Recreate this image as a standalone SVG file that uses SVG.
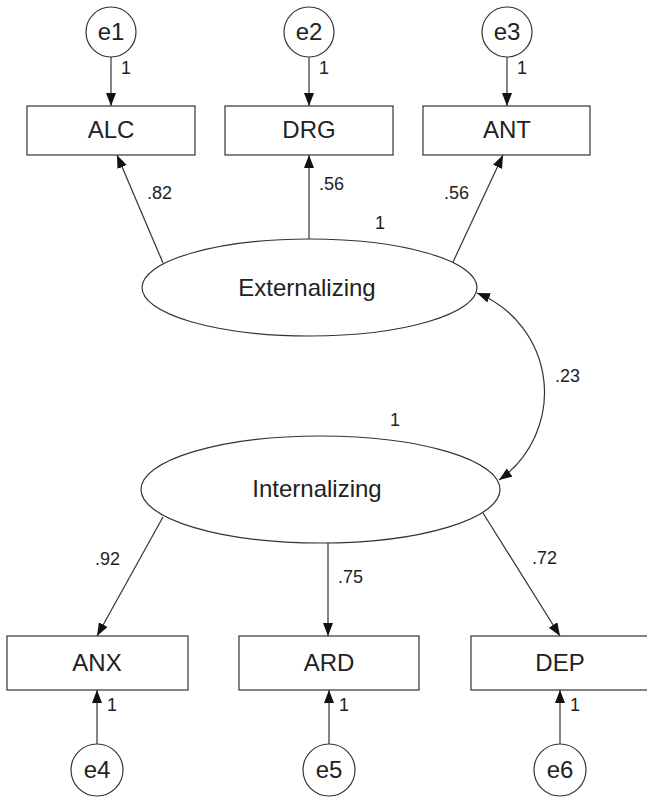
<svg xmlns="http://www.w3.org/2000/svg" width="647" height="798" viewBox="0 0 647 798">
<style>
.shape{fill:#fff;stroke:#333;stroke-width:1.2}
.lbl{font-family:"Liberation Sans",Arial,sans-serif;font-size:24px;fill:#222;text-anchor:middle}
.num{font-family:"Liberation Sans",Arial,sans-serif;font-size:18px;fill:#222}
.conn{fill:none;stroke:#333;stroke-width:1.2}
</style>
<defs>
<marker id="ah" markerUnits="userSpaceOnUse" markerWidth="14" markerHeight="11" refX="13" refY="5" orient="auto-start-reverse" viewBox="0 0 14 11">
<path d="M0,0 L13,5 L0,10 z" fill="#111"/>
</marker>
</defs>
<rect width="647" height="798" fill="#fff"/>
<g id="connectors">
<line class="conn" x1="111" y1="57" x2="111" y2="106" marker-end="url(#ah)"/>
<line class="conn" x1="309" y1="57" x2="309" y2="106" marker-end="url(#ah)"/>
<line class="conn" x1="507" y1="57" x2="507" y2="106" marker-end="url(#ah)"/>
<line class="conn" x1="163" y1="263" x2="117" y2="155" marker-end="url(#ah)"/>
<line class="conn" x1="309" y1="239" x2="309" y2="155" marker-end="url(#ah)"/>
<line class="conn" x1="453" y1="262" x2="503" y2="155" marker-end="url(#ah)"/>
<path class="conn" d="M477,293 A107,107 0 0 1 499,480" marker-start="url(#ah)" marker-end="url(#ah)"/>
<line class="conn" x1="163" y1="517" x2="97" y2="636" marker-end="url(#ah)"/>
<line class="conn" x1="328" y1="543" x2="328" y2="636" marker-end="url(#ah)"/>
<line class="conn" x1="483" y1="513" x2="560" y2="636" marker-end="url(#ah)"/>
<line class="conn" x1="97" y1="744" x2="97" y2="690" marker-end="url(#ah)"/>
<line class="conn" x1="329" y1="744" x2="329" y2="690" marker-end="url(#ah)"/>
<line class="conn" x1="560" y1="744" x2="560" y2="690" marker-end="url(#ah)"/>
<text class="num" x="121" y="74">1</text>
<text class="num" x="319" y="74">1</text>
<text class="num" x="517" y="74">1</text>
<text class="num" x="147" y="199">.82</text>
<text class="num" x="319" y="190">.56</text>
<text class="num" x="444" y="199">.56</text>
<text class="num" x="375" y="229">1</text>
<text class="num" x="555" y="382">.23</text>
<text class="num" x="390" y="426">1</text>
<text class="num" x="95" y="565">.92</text>
<text class="num" x="338" y="583">.75</text>
<text class="num" x="532" y="564">.72</text>
<text class="num" x="107" y="711">1</text>
<text class="num" x="339" y="711">1</text>
<text class="num" x="570" y="711">1</text>
</g>
<g id="e1"><circle class="shape" cx="111" cy="32" r="25"/><text class="lbl" x="111" y="40">e1</text></g>
<g id="e2"><circle class="shape" cx="309" cy="32" r="25"/><text class="lbl" x="309" y="40">e2</text></g>
<g id="e3"><circle class="shape" cx="507" cy="32" r="25"/><text class="lbl" x="507" y="40">e3</text></g>
<g id="ALC"><rect class="shape" x="27" y="106" width="168" height="49"/><text class="lbl" x="111" y="138">ALC</text></g>
<g id="DRG"><rect class="shape" x="225" y="106" width="168" height="49"/><text class="lbl" x="309" y="138">DRG</text></g>
<g id="ANT"><rect class="shape" x="423" y="106" width="167" height="49"/><text class="lbl" x="507" y="138">ANT</text></g>
<g id="Externalizing"><ellipse class="shape" cx="309.5" cy="287.5" rx="167.5" ry="48.5"/><text class="lbl" x="307" y="296">Externalizing</text></g>
<g id="Internalizing"><ellipse class="shape" cx="320.5" cy="489.5" rx="179.5" ry="53.5"/><text class="lbl" x="317" y="497">Internalizing</text></g>
<g id="ANX"><rect class="shape" x="7" y="636" width="181" height="54"/><text class="lbl" x="97" y="671">ANX</text></g>
<g id="ARD"><rect class="shape" x="239" y="636" width="180" height="54"/><text class="lbl" x="329" y="671">ARD</text></g>
<g id="DEP"><rect class="shape" x="471" y="636" width="180" height="54"/><text class="lbl" x="560" y="671">DEP</text></g>
<g id="e4"><circle class="shape" cx="97" cy="770" r="26"/><text class="lbl" x="97" y="778">e4</text></g>
<g id="e5"><circle class="shape" cx="329" cy="770" r="26"/><text class="lbl" x="329" y="778">e5</text></g>
<g id="e6"><circle class="shape" cx="560" cy="770" r="26"/><text class="lbl" x="560" y="778">e6</text></g>
</svg>
